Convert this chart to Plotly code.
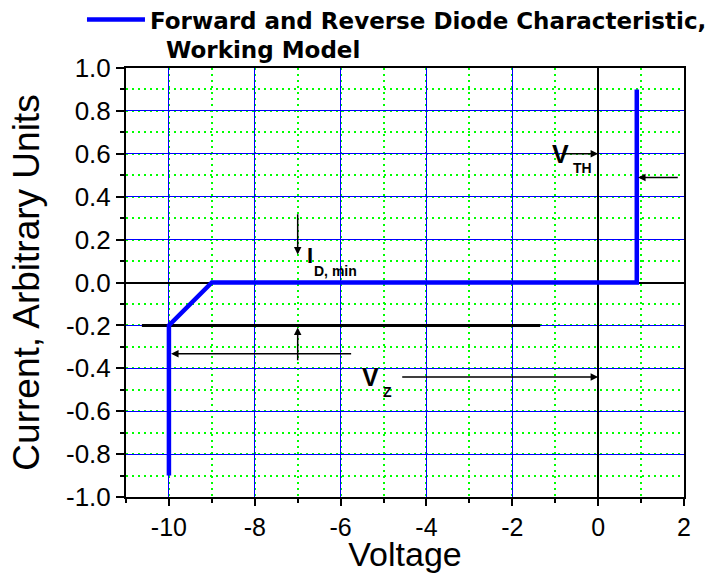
import plotly.graph_objects as go

# ---- data ----
voltage = [-10.0, -10.0, -9.0, 0.9, 0.9]
current = [-0.9, -0.2, 0.0, 0.0, 0.9]
series_name = "Forward and Reverse Diode Characteristic,<br>  Working Model"

x_ticks = [-10, -8, -6, -4, -2, 0, 2]
y_ticks = [-1.0, -0.8, -0.6, -0.4, -0.2, 0.0, 0.2, 0.4, 0.6, 0.8, 1.0]

# I_D,min reference level line (data coords)
idmin_line_x = [-10.63, -1.35]
idmin_line_y = [-0.2, -0.2]

# arrows: (tip_x, tip_y, tail_x, tail_y)
arrows = [
    (-7.0, 0.13, -7.0, 0.325),       # down arrow above I_D,min
    (-7.0, -0.21, -7.0, -0.37),      # up arrow below
    (-9.95, -0.332, -5.72, -0.332),  # left arrow to zener knee
    (0.0, -0.44, -4.6, -0.44),       # V_Z arrow
    (0.0, 0.6, -0.81, 0.6),          # V_TH arrow to 0
    (0.93, 0.49, 1.89, 0.49),        # arrow to forward edge
]

# labels: (x, y, text, size)
labels = [
    (-1.12, 0.60, "V", 25),
    (-0.64, 0.534, "TH", 14),
    (-6.82, 0.128, "I", 22),
    (-6.66, 0.054, "D, min", 14),
    (-5.55, -0.44, "V", 25),
    (-5.07, -0.51, "Z", 14),
]

FONT = "Liberation Sans, Arial, sans-serif"
LEGEND_FONT = "DejaVu Sans, Liberation Sans, sans-serif"

fig = go.Figure()
fig.add_trace(go.Scatter(
    x=idmin_line_x, y=idmin_line_y, mode="lines",
    line=dict(color="black", width=3), showlegend=False, hoverinfo="skip"))
fig.add_trace(go.Scatter(
    x=voltage, y=current, mode="lines", name=series_name,
    line=dict(color="#0000FF", width=4.5)))

for tx, ty, sx, sy in arrows:
    fig.add_annotation(x=tx, y=ty, ax=sx, ay=sy, xref="x", yref="y",
                       axref="x", ayref="y", text="", showarrow=True,
                       arrowhead=2, arrowsize=1, arrowwidth=1.5,
                       arrowcolor="black", standoff=0)

for lx, ly, txt, sz in labels:
    fig.add_annotation(x=lx, y=ly, xref="x", yref="y", text="<b>%s</b>" % txt,
                       showarrow=False, xanchor="left", yanchor="middle",
                       font=dict(family=FONT, size=sz, color="black"))

axis_common = dict(
    showline=True, linecolor="black", linewidth=2, mirror=True,
    showgrid=True, gridcolor="#0000FF", gridwidth=1,
    zeroline=True, zerolinecolor="black", zerolinewidth=1.5,
    ticks="outside", tickcolor="black", tickwidth=2,
)

fig.update_xaxes(
    **axis_common, range=[-11, 2], tickvals=x_ticks, ticklen=7,
    ticktext=[str(v) for v in x_ticks],
    tickfont=dict(family=FONT, size=25, color="black"),
    minor=dict(dtick=1, tick0=-11, ticks="outside", ticklen=4, tickwidth=2,
               tickcolor="black", showgrid=True, gridcolor="#00FF00",
               griddash="2px,4px", gridwidth=1.5),
    title=dict(text="Voltage", font=dict(family=FONT, size=34, color="black"),
               standoff=4),
)
fig.update_yaxes(
    **axis_common, range=[-1, 1], tickvals=y_ticks, ticklen=8,
    ticktext=["%.1f" % v for v in y_ticks],
    tickfont=dict(family=FONT, size=26, color="black"),
    minor=dict(dtick=0.1, tick0=-1, ticks="outside", ticklen=4, tickwidth=2,
               tickcolor="black", showgrid=True, gridcolor="#00FF00",
               griddash="2px,4px", gridwidth=1.5),
    title=dict(text="Current, Arbitrary Units",
               font=dict(family=FONT, size=37, color="black")),
)

fig.update_layout(
    width=726, height=573,
    margin=dict(l=126, r=42, t=68, b=76, autoexpand=False),
    paper_bgcolor="white", plot_bgcolor="white",
    showlegend=True,
    legend=dict(x=-0.0789, y=1.163, xref="paper", yref="paper",
                xanchor="left", yanchor="top", bgcolor="rgba(0,0,0,0)",
                itemwidth=58, itemclick=False, tracegroupgap=0, valign="top",
                font=dict(family=LEGEND_FONT, size=23, color="black",
                          weight="bold")),
)

fig.write_html("out.html")
